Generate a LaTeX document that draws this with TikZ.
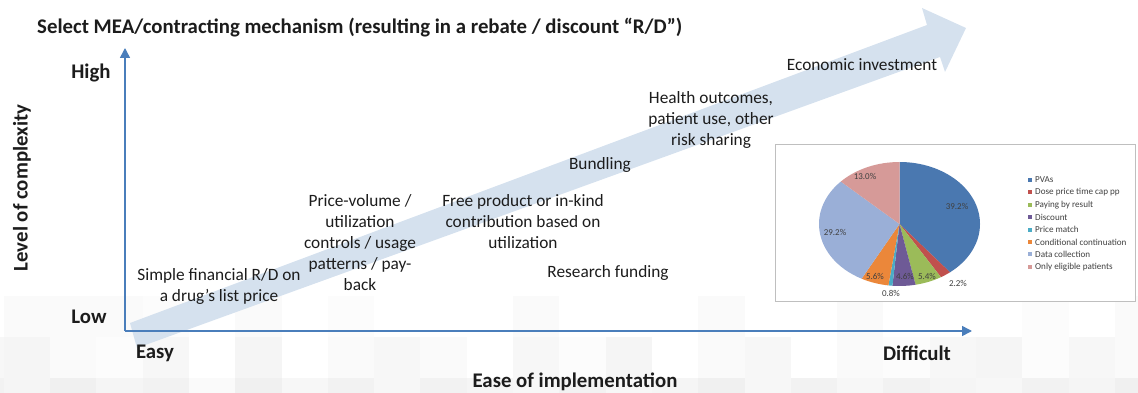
\documentclass[tikz,border=0pt]{standalone}
\usepackage{fontspec}
\setmainfont{Carlito}
\usetikzlibrary{arrows.meta,positioning}
\definecolor{ink}{HTML}{1C1C1C}
\definecolor{axisblue}{HTML}{4A7EBB}
\definecolor{bandblue}{HTML}{D5E1EE}
\definecolor{boxgray}{HTML}{BFBFBF}
\definecolor{pvablue}{HTML}{4A78B0}
\definecolor{dosered}{HTML}{C0504D}
\definecolor{paygreen}{HTML}{9BBB59}
\definecolor{discpurple}{HTML}{6E5A96}
\definecolor{matchteal}{HTML}{4BACC6}
\definecolor{condorange}{HTML}{EB873A}
\definecolor{datablue}{HTML}{9AAFD7}
\definecolor{eligpink}{HTML}{D69A98}
\tikzset{
  every node/.style={text=ink, inner sep=1pt},
  headline/.style={font=\bfseries\fontsize{20.8}{24}\selectfont, anchor=west},
  axislabel/.style={font=\bfseries\fontsize{20.8}{24}\selectfont},
  mech/.style={align=center, font=\fontsize{17.3}{21}\selectfont},
  axisline/.style={-{Triangle[length=10pt,width=10pt]}, line width=1.5pt, draw=axisblue},
  pielabel/.style={font=\fontsize{9}{11}\selectfont, text=black!75},
  legendtext/.style={font=\fontsize{9.1}{11}\selectfont, text=black!75, anchor=west},
}

\begin{document}
\begin{tikzpicture}[x=1pt,y=-1pt]
\useasboundingbox (0,0) rectangle (1138,393);
% faint tiles along the bottom
\foreach \top/\shades in {296/{0,2,2,2,1,0,2,0,1,0,0,0,2,0,0,0,2,0,0,2,0,0,0,1,0,2},
                          337/{3,4,2,1,3,0,4,0,2,3,2,0,3,1,4,0,2,3,0,2,1,3,4,1,3,2},
                          378/{5,4,6,4,5,2,6,3,5,3,5,4,3,5,3,4,6,3,5,3,5,4,3,5,4,6}}{
  \foreach \s [count=\k from -1] in \shades
    \fill[black!\s] ({3.7+46.3*\k},\top) rectangle ++(46.3,41);
}
% the big arrow behind everything
\fill[bandblue] (130,323) -- (927,25) -- (922,8) -- (966,28) -- (945,72) -- (940,57) -- (137,348) -- cycle;

% axes
\coordinate (origin) at (125,331);
\coordinate (ytip) at (125,48);
\coordinate (xtip) at (972,331);
\draw[axisline] (origin) -- (ytip);
\draw[axisline] (origin) -- (xtip);

\node[headline] (title) at (36,28) {Select MEA/contracting mechanism (resulting in a rebate / discount “R/D”)};
\node[axislabel] (high) at (91,73) {High};
\node[axislabel] (low) at (89,317) {Low};
\node[axislabel] (easy) at (155,353) {Easy};
\node[axislabel] (difficult) at (917,353) {Difficult};
\node[axislabel] (xlab) at (575,382) {Ease of implementation};
\node[axislabel, rotate=90] (ylab) at (22,188) {Level of complexity};

% mechanisms, roughly from easy to difficult
\node[mech] (simple) at (219,286) {Simple financial R/D on\\a drug’s list price};
\node[mech] (pricevol) at (360,243) {Price-volume /\\utilization\\controls / usage\\patterns / pay-\\back};
\node[mech] (freeprod) at (523,222) {Free product or in-kind\\contribution based on\\utilization};
\node[mech] (research) at (608,273) {Research funding};
\node[mech] (bundling) at (600,165) {Bundling};
\node[mech] (health) at (711,120) {Health outcomes,\\patient use, other\\risk sharing};
\node[mech] (econ) at (862,65) {Economic investment};

% pie chart panel
\draw[boxgray, line width=0.8pt, fill=white] (775,144) rectangle (1135,301);
\coordinate (pc) at (899.5,224);
\def\sliceA{-90}
\begin{scope}[shift={(pc)}, xscale=80.5/62]
  \foreach \pct/\col in {39.2/pvablue, 2.2/dosered, 5.4/paygreen, 4.6/discpurple,
                         0.8/matchteal, 5.6/condorange, 29.2/datablue, 13.0/eligpink}{
    \pgfmathsetmacro{\sliceB}{\sliceA+3.6*\pct}
    \fill[\col] (0,0) -- (\sliceA:62) arc[start angle=\sliceA, end angle=\sliceB, radius=62] -- cycle;
    \xdef\sliceA{\sliceB}
  }
\end{scope}
\node[pielabel] (l1) at (957,206) {39.2\%};
\node[pielabel] (l2) at (958,283) {2.2\%};
\node[pielabel] (l3) at (927,276) {5.4\%};
\node[pielabel] (l4) at (905,276) {4.6\%};
\node[pielabel] (l5) at (891,293) {0.8\%};
\node[pielabel] (l6) at (875,276) {5.6\%};
\node[pielabel] (l7) at (835,232) {29.2\%};
\node[pielabel] (l8) at (865,176) {13.0\%};

% legend
\foreach \col/\txt [count=\i from 0] in {pvablue/PVAs, dosered/Dose price time cap pp, paygreen/Paying by result,
    discpurple/Discount, matchteal/Price match, condorange/Conditional continuation,
    datablue/Data collection, eligpink/Only eligible patients}{
  \fill[\col] (1028,{178+12.4*\i}) rectangle ++(4,4);
  \node[legendtext] (leg\i) at (1034,{180+12.4*\i}) {\txt};
}
\end{tikzpicture}
\end{document}
